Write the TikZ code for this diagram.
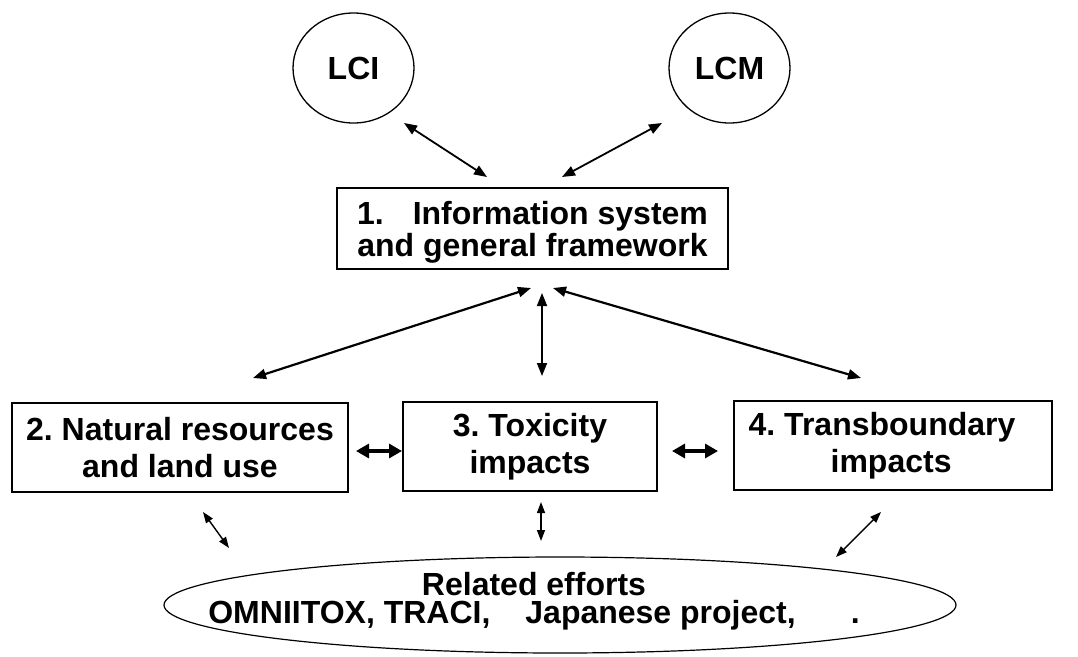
\documentclass[tikz,border=0pt]{standalone}
\usepackage{fontspec}
\setmainfont{Liberation Sans}
\usetikzlibrary{arrows.meta,shapes.geometric}
\frenchspacing
\begin{document}
\begin{tikzpicture}[x=1pt,y=-1pt,
  every node/.style={font=\fontsize{32}{37}\selectfont\bfseries},
  stage/.style={draw,line width=1.3pt,rectangle,align=center,inner sep=0pt},
  bubble/.style={draw,line width=1.3pt,ellipse,inner sep=0pt},
  link/.style={line width=1.8pt,{Triangle[length=13pt,width=10pt]}-{Triangle[length=13pt,width=10pt]}},
  biglink/.style={line width=3.2pt,{Triangle[length=13pt,width=14pt]}-{Triangle[length=13pt,width=14pt]}},
  thinlink/.style={line width=1.4pt,{Triangle[length=11pt,width=8pt]}-{Triangle[length=11pt,width=8pt]}}]

\useasboundingbox (0,0) rectangle (1078,656);

% upper bubbles
\node[bubble,minimum width=121pt,minimum height=110pt] (lci) at (353.5,68) {LCI};
\node[bubble,minimum width=121pt,minimum height=110pt] (lcm) at (729.5,68) {LCM};

% central framework box
\node[stage,minimum width=391pt,minimum height=81pt,text depth=0pt,
      font=\fontsize{32}{32}\selectfont\bfseries] (info) at (532.5,228.5)
  {1.\hspace{29pt}Information system\\and general framework};

% three impact areas
\node[stage,minimum width=336pt,minimum height=89pt] (nat) at (180,447.5)
  {2. Natural resources\\and land use};
\node[stage,minimum width=254pt,minimum height=89pt] (tox) at (530,446.5)
  {3. Toxicity\\impacts};
\node[stage,minimum width=318pt,minimum height=89pt,align=left] (trans) at (893,445.5)
  {4. Transboundary\rule{22pt}{0pt}\\\rule{82pt}{0pt}impacts};

% related efforts
\node[bubble,line width=1.2pt,minimum width=792pt,minimum height=96pt] (rel) at (560,605) {};
\node[align=center,font=\fontsize{32}{28}\selectfont\bfseries] (reltext) at (534,601)
  {Related efforts\\OMNIITOX, TRACI,\hspace{35pt}Japanese project,\hspace{55pt}.};

% connector end points
\coordinate (a1) at (404,123); \coordinate (a2) at (487,177);
\coordinate (b1) at (662,123); \coordinate (b2) at (562,177);
\coordinate (c1) at (531,288); \coordinate (c2) at (253,378);
\coordinate (d1) at (542,293); \coordinate (d2) at (542,376);
\coordinate (e1) at (553,288); \coordinate (e2) at (861,378);
\coordinate (f1) at (356,451); \coordinate (f2) at (402,451);
\coordinate (g1) at (672,451); \coordinate (g2) at (718,451);
\coordinate (h1) at (203,512); \coordinate (h2) at (229,548);
\coordinate (i1) at (541,502); \coordinate (i2) at (541,541);
\coordinate (j1) at (881,512); \coordinate (j2) at (836,557);

% connectors
\draw[link] (a1) -- (a2);
\draw[link] (b1) -- (b2);
\draw[link,line width=2.2pt] (c1) -- (c2);
\draw[link] (d1) -- (d2);
\draw[link,line width=2.2pt] (e1) -- (e2);
\draw[biglink] (f1) -- (f2);
\draw[biglink] (g1) -- (g2);
\draw[thinlink] (h1) -- (h2);
\draw[thinlink] (i1) -- (i2);
\draw[thinlink] (j1) -- (j2);
\end{tikzpicture}
\end{document}
